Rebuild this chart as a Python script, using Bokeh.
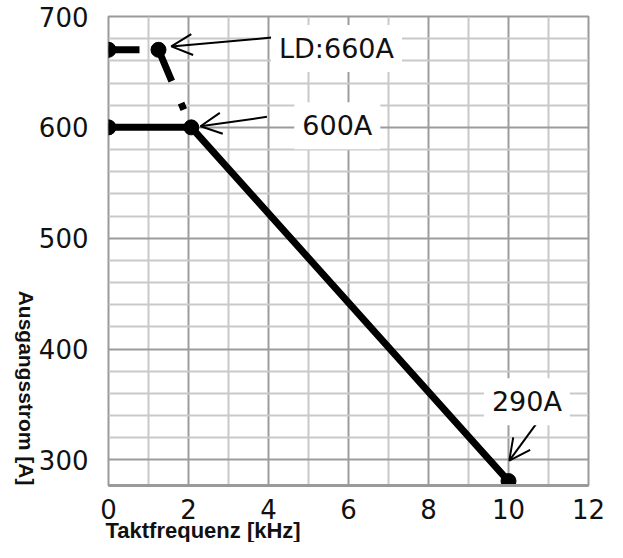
import math
from bokeh.plotting import figure
from bokeh.models import Range1d, FixedTicker, Label, Arrow, OpenHead, Title
from bokeh.embed import file_html
from bokeh.resources import INLINE

# ---- data ----
freq_main = [0, 2.07, 10]          # kHz
current_main = [600, 600, 281]     # A
freq_ld = [0, 1.25, 2.07]          # kHz (LD rating, dashed)
current_ld = [670, 670, 600]       # A

x_ticks = [0, 2, 4, 6, 8, 10, 12]
x_minor = [1, 3, 5, 7, 9, 11]
y_ticks = [300, 400, 500, 600, 700]
y_minor = [320, 340, 360, 380, 420, 440, 460, 480, 520, 540, 560, 580,
           620, 640, 660, 680]

note_texts = ["LD:660A", "600A", "290A"]
x_title = "Taktfrequenz [kHz]"
y_title = "Ausgangsstrom [A]"

# ---- figure ----
p = figure(width=607, height=542, output_backend="svg", toolbar_location=None,
           x_range=Range1d(0, 12), y_range=Range1d(277, 700),
           min_border_left=106, min_border_right=19, min_border_top=16,
           min_border_bottom=57)
p.background_fill_color = "white"
p.border_fill_color = "white"
p.outline_line_color = "#9a9a9a"
p.outline_line_width = 2

p.xaxis.ticker = FixedTicker(ticks=x_ticks, minor_ticks=x_minor)
p.yaxis.ticker = FixedTicker(ticks=y_ticks, minor_ticks=y_minor)

for g in (p.xgrid, p.ygrid):
    g.grid_line_color = "#9c9c9c"
    g.grid_line_width = 2
    g.minor_grid_line_color = "#c9c9c9"
    g.minor_grid_line_width = 2

for ax in (p.xaxis, p.yaxis):
    ax.major_tick_line_color = None
    ax.minor_tick_line_color = None
    ax.major_label_text_font = "DejaVu Sans"
    ax.major_label_text_font_size = "26px"
    ax.major_label_text_color = "#111111"

p.xaxis.axis_line_color = "#9a9a9a"
p.xaxis.axis_line_width = 3
p.xaxis.major_label_standoff = 7

p.yaxis.axis_line_color = None
p.yaxis.major_label_standoff = 14
p.yaxis.axis_label = y_title
p.yaxis.axis_label_text_font = "Liberation Sans"
p.yaxis.axis_label_text_font_style = "bold"
p.yaxis.axis_label_text_color = "#111111"
p.yaxis.axis_label_text_font_size = "21px"
p.yaxis.axis_label_align = "start"
p.yaxis.axis_label_standoff = 9
p.yaxis.axis_label_orientation = -math.pi / 2

# x-axis title, left-aligned under the frame
p.add_layout(Title(text=x_title, align="left", vertical_align="top",
                   offset=-3, standoff=-7, text_font="Liberation Sans",
                   text_font_style="bold", text_font_size="22px",
                   text_color="#111111"), "below")

# ---- curves ----
p.line(freq_main, current_main, line_color="black", line_width=7)
p.line(freq_ld, current_ld, line_color="black", line_width=7,
       line_dash="31 12 41 24 7 40")
p.scatter(freq_main, current_main, size=15, color="black")
p.scatter(freq_ld[:2], current_ld[:2], size=15, color="black")

# ---- arrows ----
arrows = [
    (4.08, 681.0, 1.57, 673.0),
    (3.96, 609.5, 2.30, 601.0),
    (10.72, 334.0, 10.02, 299.5),
]
for xs, ys, xe, ye in arrows:
    p.add_layout(Arrow(end=OpenHead(size=21, line_width=2, line_color="black"),
                       x_start=xs, y_start=ys, x_end=xe, y_end=ye,
                       line_width=2, line_color="black"))

# ---- notes with white boxes ----
note_pos = [(5.70, 671.2), (5.72, 601.4), (10.46, 352.5)]
for txt, (nx, ny) in zip(note_texts, note_pos):
    p.add_layout(Label(x=nx, y=ny, text=txt, text_font="DejaVu Sans",
                       text_font_size="27px", text_color="#111111",
                       text_align="center", text_baseline="middle",
                       background_fill_color="white", padding=8))

open("out.html", "w").write(file_html(p, INLINE))
